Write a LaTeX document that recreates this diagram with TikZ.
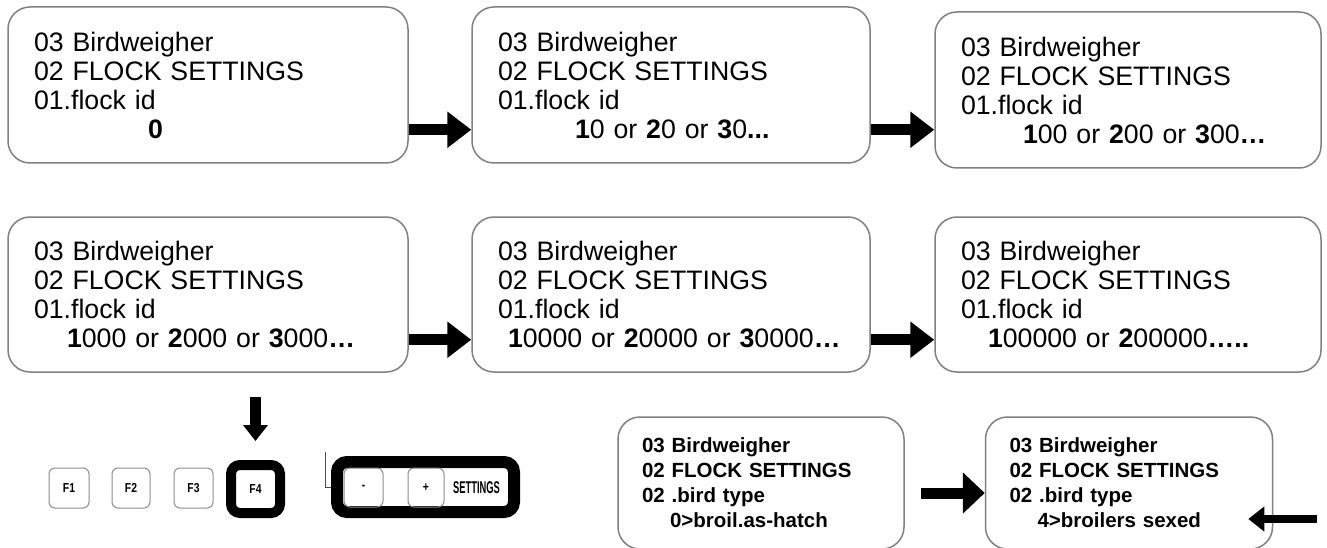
\documentclass[tikz,border=0pt]{standalone}
\usepackage{fontspec}
\setmainfont{Liberation Sans}
\usepackage{graphicx}
\usetikzlibrary{arrows.meta}
\definecolor{boxgray}{RGB}{128,128,128}
\definecolor{keygray}{RGB}{140,140,140}
\tikzset{
  screen/.style={draw=boxgray, line width=1.5pt, rounded corners=22pt, inner sep=0pt,
    align=left, font=\fontsize{26.7}{29}\selectfont},
  smallscreen/.style={draw=boxgray, line width=1.5pt, rounded corners=22pt, inner sep=0pt,
    align=left, font=\bfseries\fontsize{20.5}{25}\selectfont},
  bigarrow/.style={line width=11pt, -{Triangle[width=35pt,length=24pt]}},
  midarrow/.style={line width=11pt, -{Triangle[width=40pt,length=22pt]}},
  smallarrow/.style={line width=8pt, -{Triangle[width=24pt,length=16pt]}},
  downarrow/.style={line width=11pt, -{Triangle[width=24pt,length=16pt]}},
  fkey/.style={draw=keygray, line width=1pt, rounded corners=6pt, inner sep=0pt,
    font=\bfseries\fontsize{13}{13}\selectfont},
  selkey/.style={draw=black, line width=10pt, rounded corners=9pt, inner sep=0pt,
    font=\bfseries\fontsize{13}{13}\selectfont},
  panel/.style={draw=black, line width=12pt, rounded corners=10pt, inner sep=0pt},
  thinline/.style={draw=black!70, line width=0.8pt}
}
\begin{document}
\begin{tikzpicture}[x=1pt, y=-1pt]
\useasboundingbox (0,0) rectangle (1327,548);

% Row 1
\node[screen, minimum width=400pt, minimum height=156pt, text width=348pt] (A) at (208,85)
 {03 Birdweigher\\02 FLOCK SETTINGS\\01.flock id\\\hspace*{114pt}\textbf{0}};
\node[screen, minimum width=398pt, minimum height=156pt, text width=346pt] (B) at (671,85)
 {03 Birdweigher\\02 FLOCK SETTINGS\\01.flock id\\\hspace*{77pt}\textbf{1}0 or \textbf{2}0 or \textbf{3}0\textbf{...}};
\node[screen, minimum width=386pt, minimum height=156pt, text width=334pt] (C) at (1128,90)
 {03 Birdweigher\\02 FLOCK SETTINGS\\01.flock id\\\hspace*{62pt}\textbf{1}00 or \textbf{2}00 or \textbf{3}00\textbf{…}};

% Row 2
\node[screen, minimum width=400pt, minimum height=155pt, text width=348pt] (D) at (208,294.5)
 {03 Birdweigher\\02 FLOCK SETTINGS\\01.flock id\\\hspace*{33pt}\textbf{1}000 or \textbf{2}000 or \textbf{3}000\textbf{…}};
\node[screen, minimum width=398pt, minimum height=155pt, text width=346pt] (E) at (671,294.5)
 {03 Birdweigher\\02 FLOCK SETTINGS\\01.flock id\\\hspace*{10pt}\textbf{1}0000 or \textbf{2}0000 or \textbf{3}0000\textbf{…}};
\node[screen, minimum width=386pt, minimum height=155pt, text width=334pt] (F) at (1128,294.5)
 {03 Birdweigher\\02 FLOCK SETTINGS\\01.flock id\\\hspace*{27pt}\textbf{1}00000 or \textbf{2}00000\textbf{…..}};

% Row arrows
\coordinate (ab) at ([yshift=34pt]A.south east);
\draw[bigarrow] (ab) -- (ab -| B.west);
\coordinate (bc) at ([yshift=34pt]B.south east);
\draw[bigarrow] (bc) -- (bc -| C.west);
\coordinate (de) at ([yshift=33pt]D.south east);
\draw[bigarrow] (de) -- (de -| E.west);
\coordinate (ef) at ([yshift=33pt]E.south east);
\draw[bigarrow] (ef) -- (ef -| F.west);

% Bottom-right screens
\node[smallscreen, minimum width=286pt, minimum height=132pt, text width=238pt] (G) at (761,483)
 {03 Birdweigher\\02 FLOCK SETTINGS\\02 .bird type\\\hspace*{28pt}0>broil.as-hatch};
\node[smallscreen, minimum width=287pt, minimum height=132pt, text width=239pt] (H) at (1129,483)
 {03 Birdweigher\\02 FLOCK SETTINGS\\02 .bird type\\\hspace*{28pt}4>broilers sexed};
\draw[midarrow] ([xshift=16pt,yshift=-10pt]G.east) -- ([yshift=-10pt]H.west);
\coordinate (rp) at (1317,519);
\draw[smallarrow] (rp) -- ([xshift=-25pt,yshift=-36pt]H.east);

% Keys
\node[fkey, minimum width=40pt, minimum height=40pt] (F1) at (69,488) {\scalebox{0.8}[1]{F1}};
\node[fkey, minimum width=38pt, minimum height=40pt] (F2) at (131,488) {\scalebox{0.8}[1]{F2}};
\node[fkey, minimum width=39pt, minimum height=40pt] (F3) at (193.5,488) {\scalebox{0.8}[1]{F3}};
\node[selkey, minimum width=49pt, minimum height=48pt] (F4) at (255.5,489) {\scalebox{0.8}[1]{F4}};
\coordinate (dtop) at (255.5,397);
\draw[downarrow] (dtop) -- ([yshift=19pt]F4.north);

% Settings panel
\node[panel, minimum width=177pt, minimum height=50pt] (P) at (425.5,487) {};
\node[fkey, minimum width=39pt, minimum height=39pt] (minus) at (363.5,487.5) {\scalebox{0.8}[1]{-}};
\node[fkey, minimum width=36pt, minimum height=39pt] (plus) at (426,487.5) {\scalebox{0.8}[1]{+}};
\node[font=\bfseries\fontsize{17}{17}\selectfont, inner sep=0pt] (settings) at (476.5,488) {\scalebox{0.55}[1]{SETTINGS}};
\coordinate (ltop) at (325,452);
\draw[thinline] (ltop) |- (P.west);
\end{tikzpicture}
\end{document}
